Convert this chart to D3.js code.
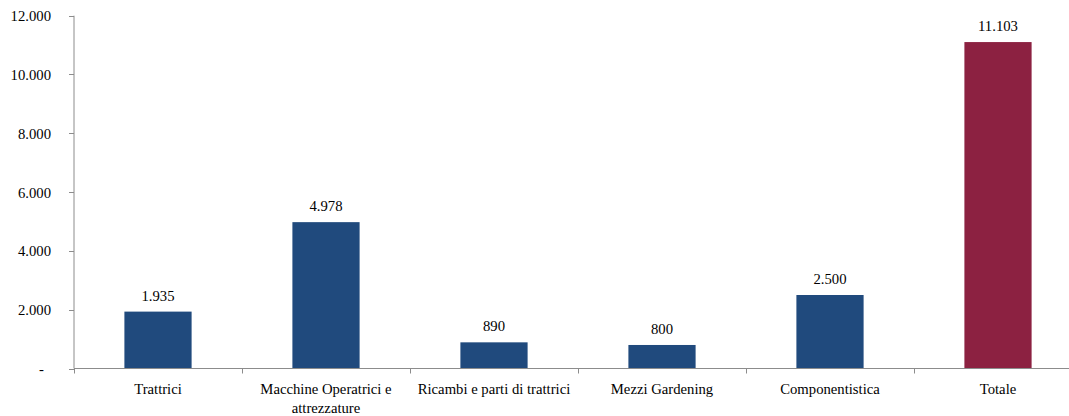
<!DOCTYPE html>
<html>
<head>
<meta charset="utf-8">
<script src="https://cdn.jsdelivr.net/npm/d3@7"></script>
<style>
  body { margin: 0; background: #fff; }
</style>
</head>
<body>
<svg id="chart" width="1069" height="416"></svg>
<script>
var categories = ["Trattrici", "Macchine Operatrici e|attrezzature", "Ricambi e parti di trattrici", "Mezzi Gardening", "Componentistica", "Totale"];
var values = [1935, 4978, 890, 800, 2500, 11103];
var yTicks = [0, 2000, 4000, 6000, 8000, 10000, 12000];

var serif = "Liberation Serif",
  fontSize = 14.7;

var svg = d3.select("#chart"),
  x0 = 74,
  x1 = 1082,
  yTop = 15.7,
  yBase = 368.5;

var fmt = function(v) {
  if (v === 0) return "-";
  return d3.format(",")(v).replace(/,/g, ".");
};

var x = d3.scaleBand().domain(categories).range([x0, x1]).padding(0);
var y = d3.scaleLinear().domain([0, 12000]).range([yBase, yTop]);

var axisColor = "#8c8c8c";

// bars
svg.append("g").selectAll("rect").data(values).enter().append("rect")
  .attr("x", function(d, i) { return x(categories[i]) + x.bandwidth() * 0.3; })
  .attr("width", x.bandwidth() * 0.4)
  .attr("y", function(d) { return y(d); })
  .attr("height", function(d) { return yBase - y(d); })
  .attr("fill", function(d, i) { return i === values.length - 1 ? "#8c2141" : "#204a7d"; });

// value labels
svg.append("g").selectAll("text").data(values).enter().append("text")
  .attr("x", function(d, i) { return x(categories[i]) + x.bandwidth() / 2; })
  .attr("y", function(d) { return y(d) - 11; })
  .attr("text-anchor", "middle")
  .attr("font-family", serif)
  .attr("font-size", fontSize)
  .text(fmt);

// y axis
var yAxis = svg.append("g");
yAxis.append("line")
  .attr("x1", x0).attr("x2", x0).attr("y1", yTop).attr("y2", yBase)
  .attr("stroke", axisColor);
yAxis.selectAll("line.tick").data(yTicks).enter().append("line")
  .attr("class", "tick")
  .attr("x1", x0 - 5).attr("x2", x0)
  .attr("y1", function(d) { return Math.round(y(d)) + 0.5; })
  .attr("y2", function(d) { return Math.round(y(d)) + 0.5; })
  .attr("stroke", axisColor);
yAxis.selectAll("text").data(yTicks).enter().append("text")
  .attr("x", function(d) { return d === 0 ? 44 : 51; })
  .attr("y", function(d) { return y(d) + 5.5; })
  .attr("text-anchor", "end")
  .attr("font-family", serif)
  .attr("font-size", fontSize)
  .text(fmt);

// x axis
var xAxis = svg.append("g");
xAxis.append("line")
  .attr("x1", x0).attr("x2", 1069).attr("y1", yBase).attr("y2", yBase)
  .attr("stroke", axisColor);
xAxis.selectAll("line.tick").data(categories).enter().append("line")
  .attr("class", "tick")
  .attr("x1", function(d) { return Math.round(x(d)) + 0.5; })
  .attr("x2", function(d) { return Math.round(x(d)) + 0.5; })
  .attr("y1", yBase).attr("y2", yBase + 5)
  .attr("stroke", axisColor);

var labels = xAxis.selectAll("text").data(categories).enter().append("text")
  .attr("text-anchor", "middle")
  .attr("font-family", serif)
  .attr("font-size", fontSize);
labels.each(function(d) {
  var t = d3.select(this);
  d.split("|").forEach(function(line, k) {
    t.append("tspan")
      .attr("x", x(d) + x.bandwidth() / 2)
      .attr("y", 394 + k * 19)
      .text(line);
  });
});
</script>
</body>
</html>
